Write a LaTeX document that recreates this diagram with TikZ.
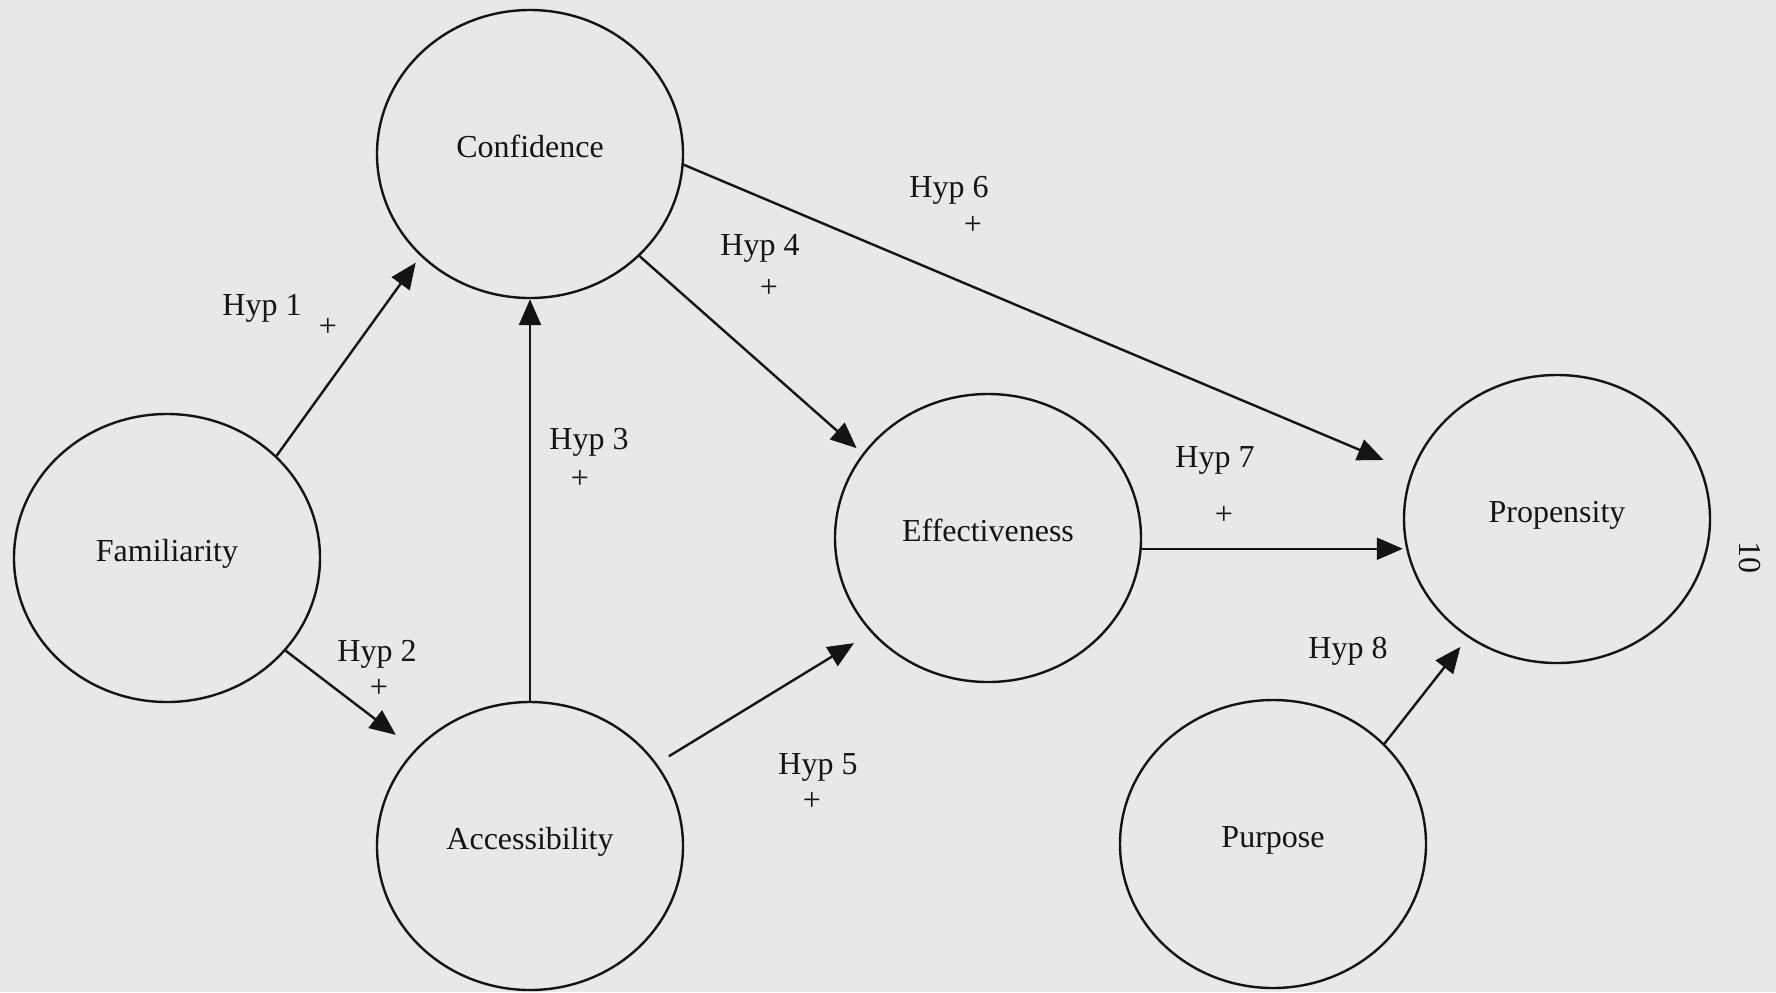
\documentclass[tikz,border=0pt]{standalone}
\usepackage{fontspec}
\setmainfont{Liberation Serif}
\usetikzlibrary{shapes.geometric,arrows.meta}
\definecolor{paper}{gray}{0.91}
\definecolor{ink}{gray}{0.08}
\tikzset{
  construct/.style={ellipse, draw=ink, line width=1.2pt, minimum width=153pt, minimum height=144pt,
    inner sep=0pt, text height=11pt, text depth=7.4pt, font=\fontsize{16}{18}\selectfont, text=ink},
  link/.style={draw=ink, line width=1.2pt, -{Triangle[length=13pt,width=11pt]}},
  hyp/.style={font=\fontsize{16}{18}\selectfont, text=ink, inner sep=0pt},
}
\begin{document}
\begin{tikzpicture}[x=0.5pt,y=-0.5pt]
\fill[paper] (0,0) rectangle (1776,992);
\useasboundingbox (0,0) rectangle (1776,992);

\node[construct] (conf) at (530,154) {Confidence};
\node[construct] (fam)  at (167,558) {Familiarity};
\node[construct] (acc)  at (530,846) {Accessibility};
\node[construct] (eff)  at (988,538) {Effectiveness};
\node[construct] (prop) at (1557,519) {Propensity};
\node[construct] (purp) at (1273,844) {Purpose};

\draw[link, shorten >=4pt] (fam.43) -- (conf.223);
\draw[link, shorten >=12pt] (fam.-38) -- (acc.140);
\draw[link] (acc.90) -- (conf.270);
\draw[link, shorten >=4pt] (conf.-43) -- (eff.146);
\draw[link, shorten <=7pt, shorten >=10pt] (acc.33) -- (eff.219);
\draw[link, shorten >=15pt] (conf.-4) -- (prop.162);
\draw[link] (eff.-4) -- (eff.-4 -| prop.west);
\draw[link, shorten >=6pt] (purp.42) -- (prop.233);

\node[hyp] (h1) at (262,308) {Hyp 1};
\node[hyp] (p1) at (328,327) {+};
\node[hyp] (h2) at (377,654) {Hyp 2};
\node[hyp] (p2) at (379,688) {+};
\node[hyp] (h3) at (589,442) {Hyp 3};
\node[hyp] (p3) at (580,479) {+};
\node[hyp] (h4) at (760,248) {Hyp 4};
\node[hyp] (p4) at (769,288) {+};
\node[hyp] (h5) at (818,767) {Hyp 5};
\node[hyp] (p5) at (812,801) {+};
\node[hyp] (h6) at (949,190) {Hyp 6};
\node[hyp] (p6) at (973,225) {+};
\node[hyp] (h7) at (1215,460) {Hyp 7};
\node[hyp] (p7) at (1224,515) {+};
\node[hyp] (h8) at (1348,651) {Hyp 8};
\node[hyp, rotate=-90] (pg) at (1750,557) {10};
\end{tikzpicture}
\end{document}
